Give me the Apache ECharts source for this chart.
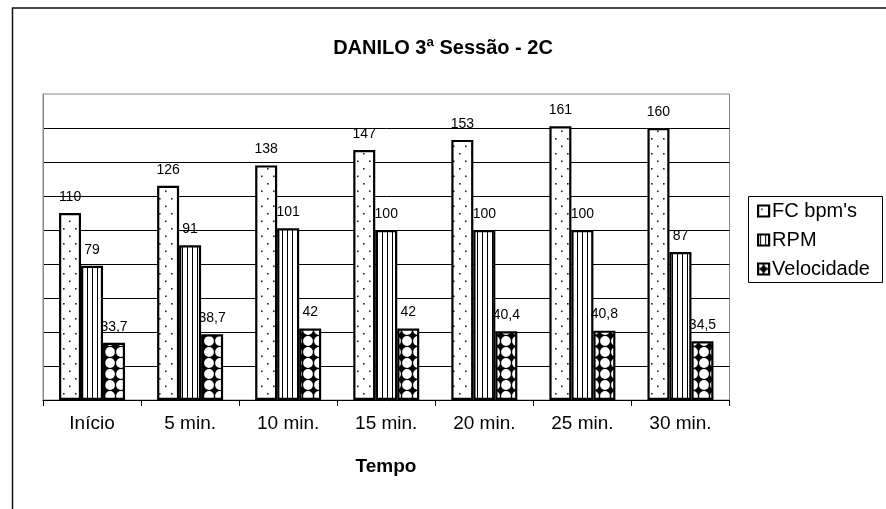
<!DOCTYPE html>
<html>
<head>
<meta charset="utf-8">
<script src="https://cdn.jsdelivr.net/npm/echarts@6/dist/echarts.min.js"></script>
<style>
html,body{margin:0;padding:0;background:#fff;}
#c{width:886px;height:509px;}
</style>
</head>
<body>
<div id="c"></div>
<script>
var categories = ['Início', '5 min.', '10 min.', '15 min.', '20 min.', '25 min.', '30 min.'];
var fcValues = [110, 126, 138, 147, 153, 161, 160];
var rpmValues = [79, 91, 101, 100, 100, 100, 87];
var velValues = [33.7, 38.7, 42, 42, 40.4, 40.8, 34.5];
var seriesNames = ["FC bpm's", 'RPM', 'Velocidade'];
var titleText = 'DANILO 3ª Sessão - 2C';
var axisName = 'Tempo';

function makeTile(w, h, draw) {
  var c = document.createElement('canvas');
  c.width = w; c.height = h;
  var ctx = c.getContext('2d');
  draw(ctx, w, h);
  return c;
}
var dotTile = makeTile(12, 15, function (ctx, w, h) {
  ctx.fillStyle = '#fff'; ctx.fillRect(0, 0, w, h);
  ctx.fillStyle = '#222';
  ctx.fillRect(3, 3, 1.6, 1.6);
  ctx.fillRect(9, 10.5, 1.6, 1.6);
});
var lineTile = makeTile(5, 5, function (ctx, w, h) {
  ctx.fillStyle = '#fff'; ctx.fillRect(0, 0, w, h);
  ctx.fillStyle = '#000';
  ctx.fillRect(2, 0, 1, h);
});
var diamondTile = makeTile(11, 11, function (ctx, w, h) {
  ctx.fillStyle = '#000'; ctx.fillRect(0, 0, w, h);
  ctx.fillStyle = '#fff';
  [[0, 0], [w, 0], [0, h], [w, h]].forEach(function (p) {
    ctx.beginPath(); ctx.arc(p[0], p[1], 4.9, 0, Math.PI * 2); ctx.fill();
  });
});

var fmt = function (p) { return String(p.value).replace('.', ','); };
var labelCfg = { show: true, position: 'top', distance: 9, color: '#000', fontSize: 14, fontFamily: 'Liberation Sans, Arial, sans-serif', formatter: fmt };

function bar(name, data, tile) {
  return {
    name: name, type: 'bar', data: data, barWidth: 22, barGap: '0%',
    itemStyle: { color: { image: tile, repeat: 'repeat' }, borderColor: '#000', borderWidth: 2.2 },
    label: labelCfg
  };
}

var chart = echarts.init(document.getElementById('c'), null, { renderer: 'canvas' });
chart.setOption({
  animation: false,
  backgroundColor: '#fff',
  textStyle: { fontFamily: 'Liberation Sans, Arial, sans-serif' },
  grid: { left: 43, top: 94, right: 156.5, bottom: 109, show: true, borderColor: '#888', borderWidth: 1, backgroundColor: '#fff', containLabel: false },
  xAxis: {
    type: 'category', data: categories, boundaryGap: true,
    axisLine: { lineStyle: { color: '#000', width: 1 } },
    axisTick: { show: true, length: 6, lineStyle: { color: '#000' } },
    axisLabel: { color: '#000', fontSize: 19, margin: 14 }
  },
  yAxis: {
    type: 'value', min: 0, max: 180, interval: 20,
    axisLine: { show: true, lineStyle: { color: '#888' } },
    axisTick: { show: false }, axisLabel: { show: false },
    splitLine: { show: true, showMinLine: false, showMaxLine: false, lineStyle: { color: '#000', width: 1 } }
  },
  legend: {
    orient: 'vertical', left: 752, top: 196,
    itemWidth: 11, itemHeight: 11, itemGap: 9, icon: 'rect',
    itemStyle: { borderWidth: 2.2, borderColor: '#000' },
    textStyle: { color: '#000', fontSize: 20, padding: [0, 0, 0, -2] },
    data: seriesNames
  },
  series: [
    bar(seriesNames[0], fcValues, dotTile),
    bar(seriesNames[1], rpmValues, lineTile),
    bar(seriesNames[2], velValues, diamondTile)
  ],
  graphic: [
    { type: 'rect', silent: true, z: -1, shape: { x: 12.5, y: 8, width: 900, height: 600 }, style: { fill: 'none', stroke: '#111', lineWidth: 1.5 } },
    { type: 'rect', silent: true, shape: { x: 748.5, y: 196.5, width: 134, height: 86 }, style: { fill: 'none', stroke: '#000', lineWidth: 1 } },
    { type: 'text', silent: true, x: 443, y: 48, style: { text: titleText, fill: '#000', font: 'bold 20px Liberation Sans, Arial, sans-serif', textAlign: 'center', textVerticalAlign: 'middle' } },
    { type: 'text', silent: true, x: 386, y: 467, style: { text: axisName, fill: '#000', font: 'bold 19px Liberation Sans, Arial, sans-serif', textAlign: 'center', textVerticalAlign: 'middle' } }
  ]
});
</script>
</body>
</html>
